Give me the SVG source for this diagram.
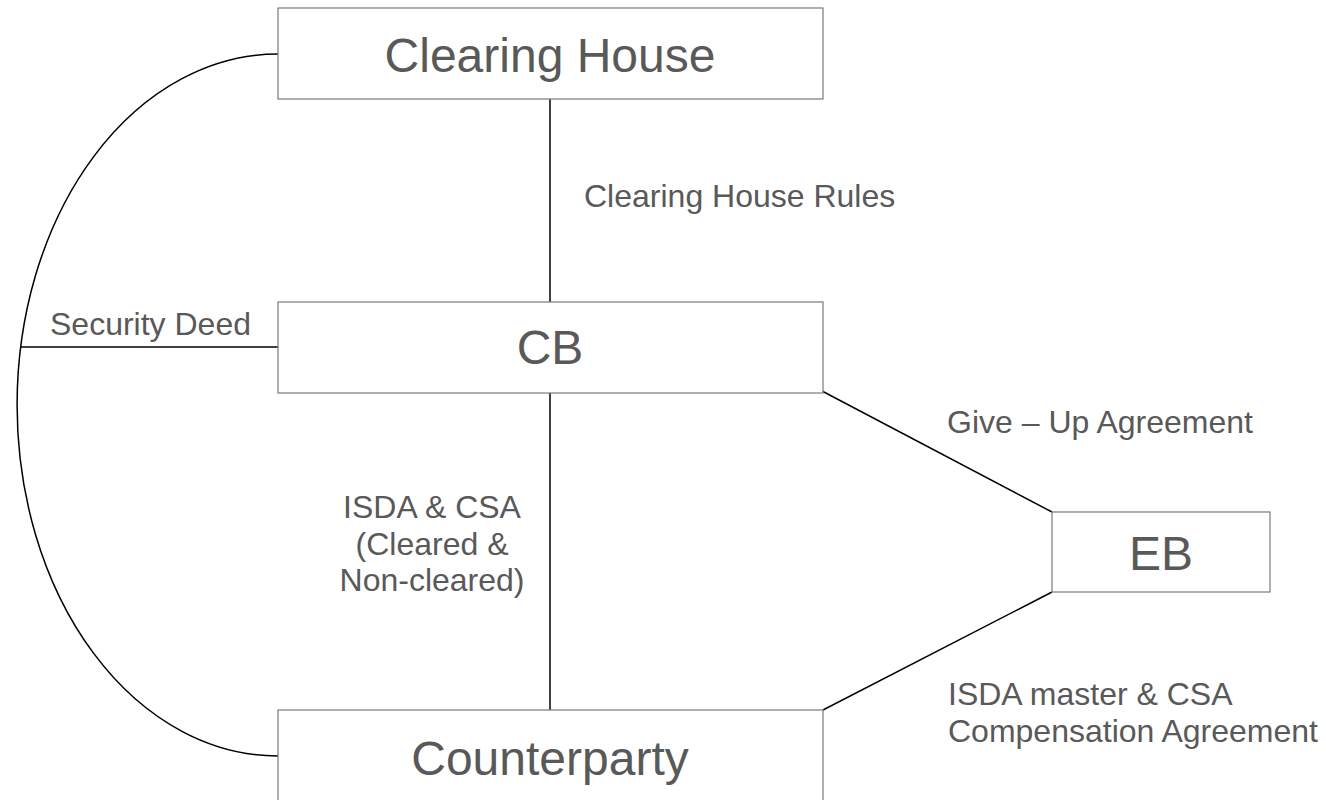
<svg xmlns="http://www.w3.org/2000/svg" width="1326" height="800" viewBox="0 0 1326 800">
  <style>
    .box { fill: #ffffff; stroke: #7a7a7a; stroke-width: 1.2; }
    .name { font-family: "Liberation Sans", Arial, sans-serif; font-size: 48px; fill: #595959; text-anchor: middle; }
    .lbl { font-family: "Liberation Sans", Arial, sans-serif; font-size: 32px; fill: #595959; }
    .link { fill: none; stroke: #000000; stroke-width: 1.5; }
  </style>
  <rect width="1326" height="800" fill="#ffffff"/>

  <!-- relationships between parties -->
  <g id="connectors">
    <path class="link" d="M 278 54 A 261 351 0 0 0 278 756"/>
    <line class="link" x1="550" y1="99" x2="550" y2="302"/>
    <line class="link" x1="21" y1="347" x2="278" y2="347"/>
    <line class="link" x1="550" y1="393" x2="550" y2="710"/>
    <line class="link" x1="822" y1="391" x2="1052" y2="512"/>
    <line class="link" x1="1052" y1="592" x2="823" y2="710"/>
    <text class="lbl" x="584" y="207">Clearing House Rules</text>
    <text class="lbl" x="50" y="335">Security Deed</text>
    <text class="lbl" x="947" y="433">Give – Up Agreement</text>
    <text class="lbl" text-anchor="middle" x="432" y="518">ISDA &amp; CSA</text>
    <text class="lbl" text-anchor="middle" x="432" y="555">(Cleared &amp;</text>
    <text class="lbl" text-anchor="middle" x="432" y="591">Non-cleared)</text>
    <text class="lbl" x="948" y="705">ISDA master &amp; CSA</text>
    <text class="lbl" x="948" y="742">Compensation Agreement</text>
  </g>

  <g id="clearing-house">
    <rect class="box" x="278" y="8" width="545" height="91"/>
    <text class="name" x="550" y="72">Clearing House</text>
  </g>

  <g id="cb">
    <rect class="box" x="278" y="302" width="545" height="91"/>
    <text class="name" x="550" y="364">CB</text>
  </g>

  <g id="eb">
    <rect class="box" x="1052" y="512" width="218" height="80"/>
    <text class="name" x="1161" y="570">EB</text>
  </g>

  <g id="counterparty">
    <rect class="box" x="278" y="710" width="545" height="100"/>
    <text class="name" x="550" y="775">Counterparty</text>
  </g>
</svg>
